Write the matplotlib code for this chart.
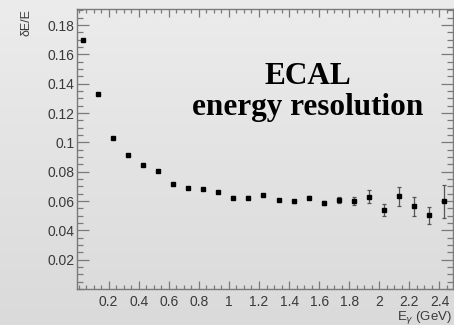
import numpy as np
import matplotlib
matplotlib.use("Agg")
import matplotlib.pyplot as plt
from matplotlib.ticker import MultipleLocator, FuncFormatter

# Data
energy = [0.03, 0.13, 0.23, 0.33, 0.43, 0.53, 0.63, 0.73, 0.83, 0.93,
          1.03, 1.13, 1.23, 1.33, 1.43, 1.53, 1.63, 1.73, 1.83, 1.93,
          2.03, 2.13, 2.23, 2.33, 2.43]
resolution = [0.1697, 0.1329, 0.1027, 0.0915, 0.0845, 0.0806, 0.0713, 0.0688,
              0.0679, 0.0663, 0.0624, 0.0624, 0.0641, 0.0607, 0.0597, 0.0624,
              0.0588, 0.0607, 0.0600, 0.0629, 0.0541, 0.0634, 0.0563, 0.0502,
              0.0597]
res_err = [0.0005, 0.0005, 0.0005, 0.0005, 0.0005, 0.0005, 0.0006, 0.0006,
           0.0007, 0.0007, 0.0008, 0.0008, 0.0009, 0.0010, 0.0011, 0.0012,
           0.0015, 0.0018, 0.0025, 0.0045, 0.0040, 0.0065, 0.0065, 0.0057,
           0.0110]
xticks = [0.2, 0.4, 0.6, 0.8, 1.0, 1.2, 1.4, 1.6, 1.8, 2.0, 2.2, 2.4]
yticks = [0.02, 0.04, 0.06, 0.08, 0.10, 0.12, 0.14, 0.16, 0.18]

W, H = 454, 325
fig = plt.figure(figsize=(W / 100, H / 100), dpi=100)

# background gradient
bg = fig.add_axes([0, 0, 1, 1], zorder=-10)
grad = np.linspace(0, 1, 256).reshape(-1, 1)
top_c = np.array([0.925, 0.925, 0.925])
bot_c = np.array([0.855, 0.855, 0.855])
img = top_c[None, None, :] * (1 - grad[:, :, None]) + bot_c[None, None, :] * grad[:, :, None]
bg.imshow(img, aspect='auto', extent=[0, 1, 0, 1], origin='upper')
bg.axis('off')

ax = fig.add_axes([77 / W, (H - 289) / H, (453 - 77) / W, (289 - 9) / H])
ax.patch.set_alpha(0)

ax.errorbar(energy, resolution, yerr=res_err, fmt='s', color='black',
            markersize=3.3, ecolor='#555555', elinewidth=0.9,
            capsize=1.2, capthick=0.9, zorder=3)

ax.set_xlim(-0.01, 2.49)
ax.set_ylim(0, 0.191)

ax.set_xticks(xticks)
ax.set_yticks(yticks)
ax.xaxis.set_minor_locator(MultipleLocator(0.05))
ax.yaxis.set_minor_locator(MultipleLocator(0.005))

fmt = FuncFormatter(lambda v, p: ('%g' % round(v, 3)))
ax.xaxis.set_major_formatter(fmt)
ax.yaxis.set_major_formatter(fmt)

spine_c = '#7a7a7a'
for s in ax.spines.values():
    s.set_color(spine_c)
    s.set_linewidth(1.0)

ax.tick_params(axis='x', which='major', direction='in', length=5.8, width=0.9,
               color=spine_c, top=True, bottom=True, labelsize=10,
               labelcolor='#3a3a3a', pad=4)
ax.tick_params(axis='x', which='minor', direction='in', length=2.9, width=0.9,
               color=spine_c, top=True, bottom=True)
ax.tick_params(axis='y', which='major', direction='in', length=8.3, width=0.9,
               color=spine_c, left=True, right=True, labelsize=10,
               labelcolor='#3a3a3a', pad=2)
ax.tick_params(axis='y', which='minor', direction='in', length=4.1, width=0.9,
               color=spine_c, left=True, right=True)
for lab in ax.get_xticklabels() + ax.get_yticklabels():
    lab.set_fontfamily('Liberation Sans')

fig.text(27 / W, 1 - 9 / H, 'δE/E', rotation=90, ha='center', va='top',
         fontsize=9, color='#3a3a3a', family='Liberation Sans')
fig.text(452 / W, 1 - 317 / H, r'E$_\gamma$ (GeV)', ha='right', va='center',
         fontsize=9.5, color='#3a3a3a', family='Liberation Sans')

fig.text(308 / W, 1 - 76 / H, 'ECAL', ha='center', va='center',
         fontsize=22.5, fontweight='bold', family='Liberation Serif', color='black')
fig.text(308 / W, 1 - 107 / H, 'energy resolution', ha='center', va='center',
         fontsize=22.5, fontweight='bold', family='Liberation Serif', color='black')

fig.savefig('out.png', dpi=100)
